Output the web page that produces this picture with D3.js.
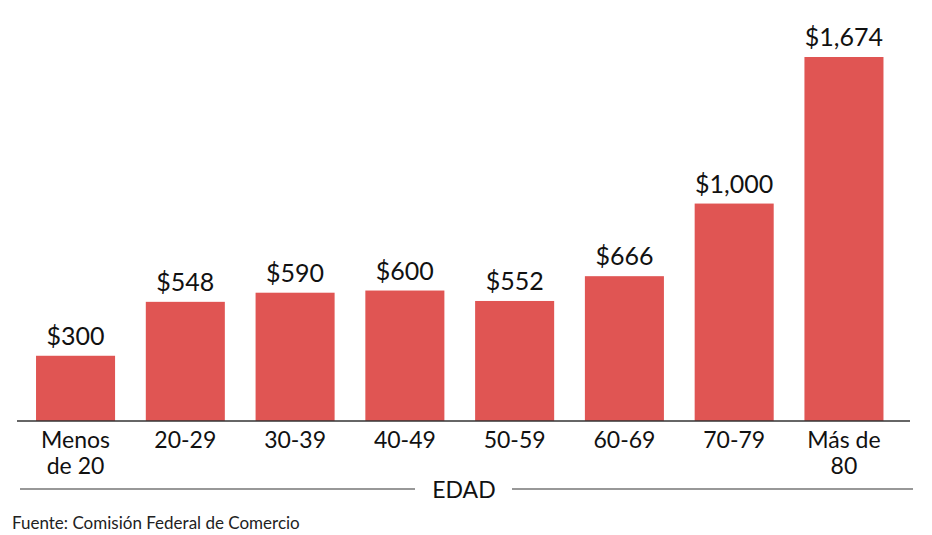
<!DOCTYPE html>
<html><head><meta charset="utf-8">
<script src="https://cdn.jsdelivr.net/npm/d3@7"></script>
<style>body{margin:0;background:#fff;font-family:Lato,sans-serif}</style>
</head><body>
<svg id="chart" width="932" height="535"></svg>
<script>
// age groups and average loss
var categories = [["Menos", "de 20"], ["20-29"], ["30-39"], ["40-49"], ["50-59"], ["60-69"], ["70-79"], ["Más de", "80"]];
var values = [300, 548, 590, 600, 552, 666, 1000, 1674];
var valueLabels = ["$300", "$548", "$590", "$600", "$552", "$666", "$1,000", "$1,674"];

var svg = d3.select("#chart");
var baseY = 421;

var x = d3.scaleBand()
  .domain(d3.range(values.length))
  .range([20, 899.5])
  .paddingInner(0.28)
  .paddingOuter(0.146);

var y = d3.scaleLinear().domain([0, 1674]).range([baseY, 57]);

svg.selectAll("rect.bar").data(values).enter().append("rect")
  .attr("class", "bar")
  .attr("x", function(d, i) { return x(i); })
  .attr("y", function(d) { return y(d); })
  .attr("width", x.bandwidth())
  .attr("height", function(d) { return baseY - y(d); })
  .attr("fill", "#e05553");

svg.selectAll("text.val").data(values).enter().append("text")
  .attr("x", function(d, i) { return x(i) + x.bandwidth() / 2; })
  .attr("y", function(d) { return y(d) - 11; })
  .attr("text-anchor", "middle")
  .style("font-size", "25px").style("fill", "#111")
  .text(function(d, i) { return valueLabels[i]; });

// axis line
svg.append("line").attr("x1", 17).attr("x2", 910).attr("y1", baseY).attr("y2", baseY)
  .attr("stroke", "#333").attr("stroke-width", 1.5);

var lab = svg.selectAll("text.cat").data(categories).enter().append("text")
  .attr("text-anchor", "middle")
  .style("font-size", "23px").style("fill", "#111");
lab.selectAll("tspan").data(function(d, i) { return d.map(function(s) { return [s, i]; }); })
  .enter().append("tspan")
  .attr("x", function(d) { return x(d[1]) + x.bandwidth() / 2; })
  .attr("y", function(d, j) { return 448 + j * 26; })
  .text(function(d) { return d[0]; });

// EDAD title with lines
svg.append("line").attr("x1", 20).attr("x2", 415).attr("y1", 489).attr("y2", 489).attr("stroke", "#333").attr("stroke-width", 1.2);
svg.append("line").attr("x1", 512).attr("x2", 913).attr("y1", 489).attr("y2", 489).attr("stroke", "#333").attr("stroke-width", 1.2);
svg.append("text").attr("x", 464).attr("y", 498).attr("text-anchor", "middle")
  .style("font-size", "23px").style("fill", "#111").text("EDAD");

svg.append("text").attr("x", 12).attr("y", 529)
  .style("font-size", "17px").style("fill", "#222").text("Fuente: Comisión Federal de Comercio");
</script>
</body></html>
